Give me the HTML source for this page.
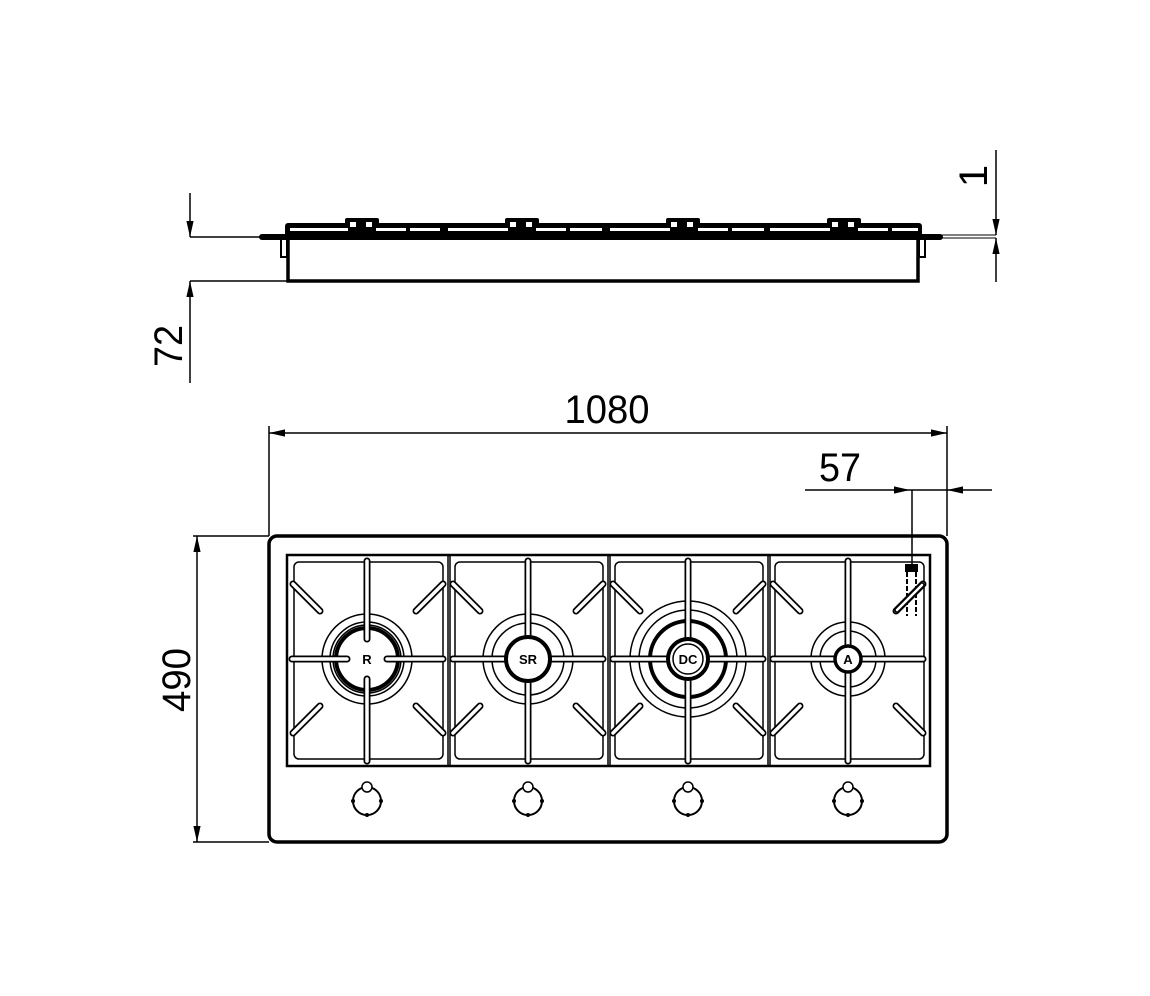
<!DOCTYPE html>
<html><head><meta charset="utf-8"><style>html,body{margin:0;padding:0;background:#fff}svg{display:block}</style></head>
<body>
<svg width="1150" height="996" viewBox="0 0 1150 996" xmlns="http://www.w3.org/2000/svg" font-family="Liberation Sans, sans-serif">
<defs>
<marker id="ah" viewBox="0 0 10 10" refX="10" refY="5" markerWidth="16" markerHeight="9" markerUnits="userSpaceOnUse" orient="auto-start-reverse" preserveAspectRatio="none"><path d="M0,1 L10,5 L0,9 Z" fill="#000"/></marker>
</defs>
<g stroke="#000" fill="none">
<!-- TOP VIEW -->
<rect x="285" y="223" width="637" height="14" rx="3" fill="#000" stroke="none"/>
<g fill="#fff" stroke="none">
<rect x="290" y="228" width="58" height="3"/><rect x="376" y="228" width="30" height="3"/><rect x="410" y="228" width="30" height="3"/>
<rect x="448" y="228" width="60" height="3"/><rect x="536" y="228" width="30" height="3"/><rect x="570" y="228" width="32" height="3"/>
<rect x="610" y="228" width="60" height="3"/><rect x="698" y="228" width="30" height="3"/><rect x="732" y="228" width="32" height="3"/>
<rect x="770" y="228" width="60" height="3"/><rect x="858" y="228" width="30" height="3"/><rect x="892" y="228" width="26" height="3"/>
</g>
<g fill="#000" stroke="none">
<rect x="345" y="218" width="34" height="10" rx="2"/><rect x="505" y="218" width="34" height="10" rx="2"/><rect x="666" y="218" width="34" height="10" rx="2"/><rect x="827" y="218" width="34" height="10" rx="2"/>
</g>
<g fill="#fff" stroke="none">
<rect x="350" y="222" width="6" height="5"/><rect x="366" y="222" width="6" height="5"/>
<rect x="510" y="222" width="6" height="5"/><rect x="526" y="222" width="6" height="5"/>
<rect x="671" y="222" width="6" height="5"/><rect x="687" y="222" width="6" height="5"/>
<rect x="832" y="222" width="6" height="5"/><rect x="848" y="222" width="6" height="5"/>
</g>
<line x1="262" y1="237" x2="940" y2="237" stroke-width="6" stroke-linecap="round"/>
<rect x="288" y="238" width="630" height="43" stroke-width="3.5"/>
<rect x="281" y="238" width="6" height="19" stroke-width="2"/>
<rect x="919" y="238" width="6" height="19" stroke-width="2"/>
<line x1="190" y1="237" x2="262" y2="237" stroke-width="1.5"/>
<line x1="190" y1="281" x2="288" y2="281" stroke-width="1.5"/>
<line x1="190" y1="193" x2="190" y2="237" stroke-width="1.5" marker-end="url(#ah)"/>
<line x1="190" y1="383" x2="190" y2="281" stroke-width="1.5" marker-end="url(#ah)"/>
<line x1="940" y1="235" x2="996" y2="235" stroke-width="1"/>
<line x1="940" y1="238" x2="996" y2="238" stroke-width="1"/>
<line x1="996" y1="150" x2="996" y2="235" stroke-width="1.5" marker-end="url(#ah)"/>
<line x1="996" y1="282" x2="996" y2="238" stroke-width="1.5" marker-end="url(#ah)"/>

<!-- PLAN VIEW dims -->
<line x1="269" y1="426" x2="269" y2="536" stroke-width="1.5"/>
<line x1="947" y1="426" x2="947" y2="536" stroke-width="1.5"/>
<line x1="269" y1="433" x2="947" y2="433" stroke-width="1.5" marker-start="url(#ah)" marker-end="url(#ah)"/>
<line x1="805" y1="490" x2="910" y2="490" stroke-width="1.5" marker-end="url(#ah)"/>
<line x1="992" y1="490" x2="947" y2="490" stroke-width="1.5" marker-end="url(#ah)"/>
<line x1="910" y1="490" x2="947" y2="490" stroke-width="1.5"/>
<line x1="912" y1="490" x2="912" y2="566" stroke-width="1.5"/>
<line x1="193" y1="536" x2="269" y2="536" stroke-width="1.5"/>
<line x1="193" y1="842" x2="269" y2="842" stroke-width="1.5"/>
<line x1="197" y1="536" x2="197" y2="842" stroke-width="1.5" marker-start="url(#ah)" marker-end="url(#ah)"/>

<!-- body -->
<rect x="269" y="536" width="678" height="306" rx="8" stroke-width="3.5"/>
<rect x="287" y="555" width="643" height="211" stroke-width="2.5"/>
<line x1="448" y1="555" x2="448" y2="766" stroke-width="1.5"/><line x1="450" y1="555" x2="450" y2="766" stroke-width="1.5"/>
<line x1="608" y1="555" x2="608" y2="766" stroke-width="1.5"/><line x1="610" y1="555" x2="610" y2="766" stroke-width="1.5"/>
<line x1="768" y1="555" x2="768" y2="766" stroke-width="1.5"/><line x1="770" y1="555" x2="770" y2="766" stroke-width="1.5"/>
<g stroke-width="1.5">
<rect x="294" y="562" width="149" height="197" rx="5"/>
<rect x="455" y="562" width="148" height="197" rx="5"/>
<rect x="615" y="562" width="148" height="197" rx="5"/>
<rect x="775" y="562" width="149" height="197" rx="5"/>
</g>

<!-- rings -->
<g stroke-width="1.5">
<circle cx="367" cy="659" r="45"/><circle cx="367" cy="659" r="37"/><circle cx="367" cy="659" r="34"/>
<circle cx="528" cy="659" r="45"/><circle cx="528" cy="659" r="36"/>
<circle cx="688" cy="659" r="58"/><circle cx="688" cy="659" r="49"/>
<circle cx="848" cy="659" r="37"/><circle cx="848" cy="659" r="28"/>
</g>
<circle cx="367" cy="659" r="31" stroke-width="4"/>
<circle cx="688" cy="659" r="38" stroke-width="4"/>

<!-- bars -->
<g>
<path stroke-width="7" stroke-linecap="round" d="
M293,584 L320,611 M443,584 L416,611 M293,733 L320,706 M443,733 L416,706
M453,584 L480,611 M603,584 L576,611 M453,733 L480,706 M603,733 L576,706
M613,584 L640,611 M763,584 L736,611 M613,733 L640,706 M763,733 L736,706
M773,584 L800,611 M923,584 L896,611 M773,733 L800,706 M923,733 L896,706
M367,561 L367,639 M367,679 L367,761 M292,659 L347,659 M387,659 L443,659
M528,561 L528,636 M528,682 L528,761 M453,659 L505,659 M551,659 L603,659
M688,561 L688,638 M688,680 L688,761 M613,659 L667,659 M709,659 L763,659
M848,561 L848,645 M848,673 L848,761 M773,659 L834,659 M862,659 L923,659"/>
<path stroke-width="3.5" stroke="#fff" stroke-linecap="round" d="
M293,584 L320,611 M443,584 L416,611 M293,733 L320,706 M443,733 L416,706
M453,584 L480,611 M603,584 L576,611 M453,733 L480,706 M603,733 L576,706
M613,584 L640,611 M763,584 L736,611 M613,733 L640,706 M763,733 L736,706
M773,584 L800,611 M923,584 L896,611 M773,733 L800,706 M923,733 L896,706
M367,561 L367,639 M367,679 L367,761 M292,659 L347,659 M387,659 L443,659
M528,561 L528,636 M528,682 L528,761 M453,659 L505,659 M551,659 L603,659
M688,561 L688,638 M688,680 L688,761 M613,659 L667,659 M709,659 L763,659
M848,561 L848,645 M848,673 L848,761 M773,659 L834,659 M862,659 L923,659"/>
</g>
<circle cx="528" cy="659" r="22" stroke-width="4" fill="#fff"/>
<circle cx="688" cy="659" r="20" stroke-width="4" fill="#fff"/>
<circle cx="688" cy="659" r="15" stroke-width="1.5"/>
<circle cx="848" cy="659" r="13" stroke-width="3.5" fill="#fff"/>

<!-- element at right -->
<rect x="905" y="564" width="13" height="8" fill="#000" stroke="none"/>
<path d="M907,572 V616 M916,572 V616" stroke-width="2" stroke-dasharray="5,2"/>
<line x1="897" y1="610" x2="922" y2="585" stroke-width="6" stroke-linecap="round"/>
<line x1="897" y1="610" x2="922" y2="585" stroke-width="2.5" stroke="#fff" stroke-linecap="round"/>

<!-- knobs -->
<g stroke-width="2">
<circle cx="367" cy="801" r="14"/><circle cx="528" cy="801" r="14"/><circle cx="688" cy="801" r="14"/><circle cx="848" cy="801" r="14"/>
</g>
<g stroke-width="1.5" fill="#fff">
<circle cx="367" cy="787" r="5"/><circle cx="528" cy="787" r="5"/><circle cx="688" cy="787" r="5"/><circle cx="848" cy="787" r="5"/>
</g>
<g fill="#000" stroke="none">
<circle cx="353" cy="801" r="2"/><circle cx="381" cy="801" r="2"/><circle cx="367" cy="815" r="2"/>
<circle cx="514" cy="801" r="2"/><circle cx="542" cy="801" r="2"/><circle cx="528" cy="815" r="2"/>
<circle cx="674" cy="801" r="2"/><circle cx="702" cy="801" r="2"/><circle cx="688" cy="815" r="2"/>
<circle cx="834" cy="801" r="2"/><circle cx="862" cy="801" r="2"/><circle cx="848" cy="815" r="2"/>
</g>
</g>

<g fill="#000" text-anchor="middle">
<text x="367" y="664" font-size="13" font-weight="bold">R</text>
<text x="528" y="664" font-size="13" font-weight="bold">SR</text>
<text x="688" y="664" font-size="13" font-weight="bold">DC</text>
<text x="848" y="664" font-size="13" font-weight="bold">A</text>
<text x="607" y="423" font-size="40" textLength="85" lengthAdjust="spacingAndGlyphs">1080</text>
<text x="840" y="481" font-size="40" textLength="42" lengthAdjust="spacingAndGlyphs">57</text>
<text transform="translate(182,346) rotate(-90)" font-size="40" textLength="42" lengthAdjust="spacingAndGlyphs">72</text>
<text transform="translate(190,680) rotate(-90)" font-size="40" textLength="64" lengthAdjust="spacingAndGlyphs">490</text>
<text transform="translate(987,176) rotate(-90)" font-size="40">1</text>
</g>
</svg>
</body></html>
